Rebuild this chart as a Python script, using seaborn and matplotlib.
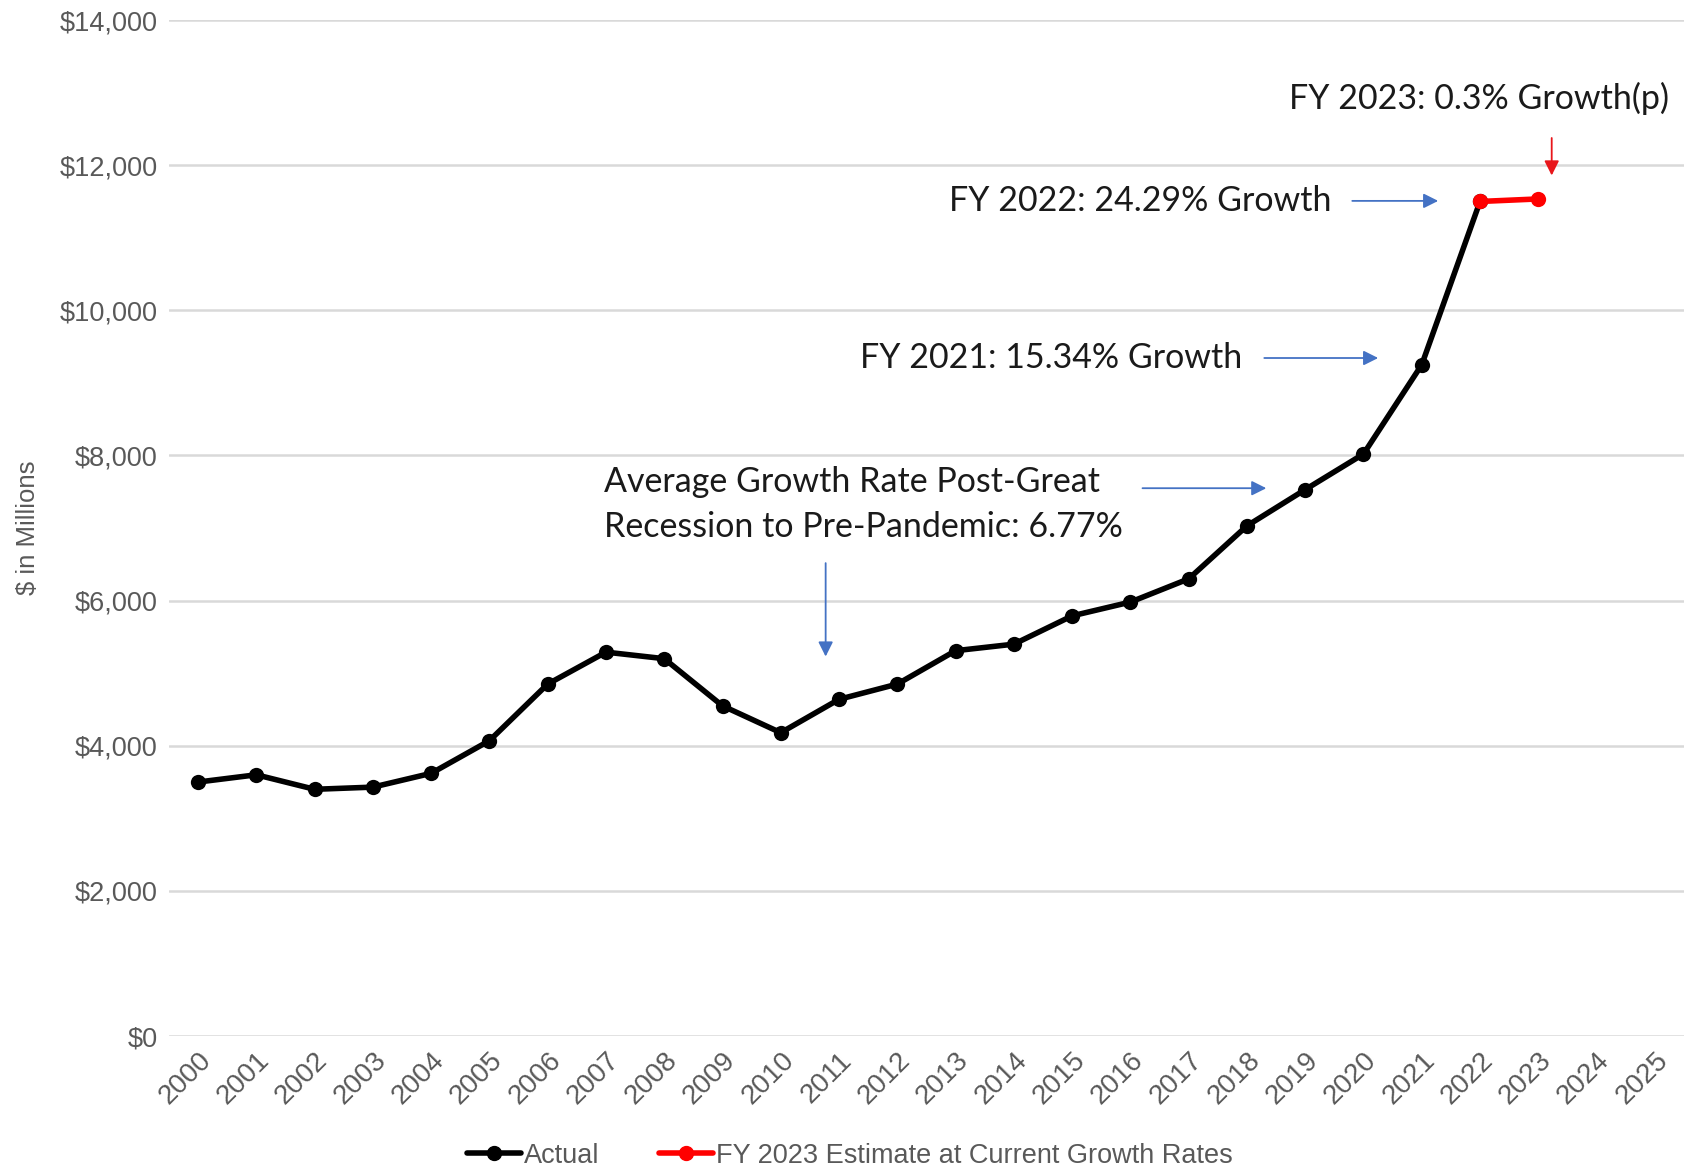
import matplotlib
matplotlib.use("Agg")
import matplotlib.pyplot as plt
import seaborn as sns
import pandas as pd
from matplotlib.lines import Line2D

# ---- data ----
years_all = list(range(2000, 2026))
actual_years = list(range(2000, 2023))
actual_values = [3500, 3600, 3400, 3430, 3620, 4070, 4850, 5290, 5200, 4550,
                 4180, 4640, 4850, 5310, 5400, 5790, 5980, 6300, 7030, 7530,
                 8020, 9250, 11500]
est_years = [2022, 2023]
est_values = [11500, 11535]
y_ticks = [0, 2000, 4000, 6000, 8000, 10000, 12000, 14000]
y_tick_labels = ["$0", "$2,000", "$4,000", "$6,000", "$8,000", "$10,000", "$12,000", "$14,000"]

df_actual = pd.DataFrame({"Year": actual_years, "Value": actual_values})
df_est = pd.DataFrame({"Year": est_years, "Value": est_values})

sns.set_theme(style="white")
plt.rcParams["font.family"] = ["Liberation Sans", "DejaVu Sans"]

fig = plt.figure(figsize=(16.86, 11.72), dpi=100)
ax = fig.add_axes([0.1002, 0.116, 0.8986, 0.8669])

gray = "#595959"
sns.lineplot(data=df_actual, x="Year", y="Value", ax=ax, color="black",
             lw=4, marker="o", markersize=11, markeredgewidth=0, zorder=3)
sns.lineplot(data=df_est, x="Year", y="Value", ax=ax, color="#ff0000",
             lw=4, marker="o", markersize=11, markeredgewidth=0, zorder=4)

ax.set_xlim(1999.5, 2025.5)
ax.set_ylim(0, 14000)
ax.set_yticks(y_ticks)
ax.set_yticklabels(y_tick_labels, fontsize=19.5, color=gray)
ax.set_xticks(years_all)
ax.set_xticklabels([str(y) for y in years_all], rotation=45, ha="right",
                   rotation_mode="anchor", fontsize=20, color=gray)
ax.tick_params(axis="both", length=0, pad=8)
ax.grid(axis="y", color="#d9d9d9", lw=1.8)
ax.set_axisbelow(True)
for s in ax.spines.values():
    s.set_visible(False)
ax.set_xlabel("")
ax.set_ylabel("$ in Millions", fontsize=18.5, color=gray, labelpad=14)

# ---- annotations ----
afont = ["Lato", "DejaVu Sans"]
blue = "#4472c4"
red = "#e8161b"
fs = 24.5

ax.text(2025.24, 12917, "FY 2023: 0.3% Growth(p)", ha="right", va="center",
        fontsize=fs, family=afont, color="#1a1a1a")
ax.annotate("", xy=(2023.23, 11820), xytext=(2023.23, 12413),
            arrowprops=dict(arrowstyle="-|>", color=red, lw=1.3, mutation_scale=22))

ax.text(2019.45, 11508, "FY 2022: 24.29% Growth", ha="right", va="center",
        fontsize=fs, family=afont, color="#1a1a1a")
ax.annotate("", xy=(2021.33, 11508), xytext=(2019.76, 11508),
            arrowprops=dict(arrowstyle="-|>", color=blue, lw=1.3, mutation_scale=22))

ax.text(2017.92, 9343, "FY 2021: 15.34% Growth", ha="right", va="center",
        fontsize=fs, family=afont, color="#1a1a1a")
ax.annotate("", xy=(2020.30, 9343), xytext=(2018.25, 9343),
            arrowprops=dict(arrowstyle="-|>", color=blue, lw=1.3, mutation_scale=22))

ax.text(2006.97, 7326, "Average Growth Rate Post-Great\nRecession to Pre-Pandemic: 6.77%",
        ha="left", va="center", fontsize=fs, family=afont, color="#1a1a1a",
        linespacing=1.5)
ax.annotate("", xy=(2018.38, 7549), xytext=(2016.16, 7549),
            arrowprops=dict(arrowstyle="-|>", color=blue, lw=1.3, mutation_scale=22))
ax.annotate("", xy=(2010.77, 5191), xytext=(2010.77, 6555),
            arrowprops=dict(arrowstyle="-|>", color=blue, lw=1.3, mutation_scale=22))

# ---- legend ----
handles = [Line2D([0], [0], color="black", lw=4, marker="o", markersize=10),
           Line2D([0], [0], color="#ff0000", lw=4, marker="o", markersize=10)]
leg = fig.legend(handles, ["Actual", "FY 2023 Estimate at Current Growth Rates"],
                 loc="center", bbox_to_anchor=(0.504, 0.014), ncol=2, frameon=False,
                 fontsize=19.5, handlelength=2.0, handletextpad=0.1, columnspacing=2.2)
for t in leg.get_texts():
    t.set_color(gray)

fig.savefig("out.png", dpi=100, facecolor="white")
